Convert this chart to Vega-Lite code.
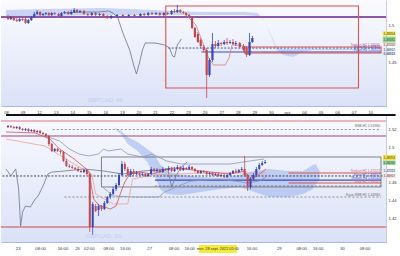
{
"$schema":"https://vega.github.io/schema/vega-lite/v6.json",
"background":"white",
"padding":0,
"spacing":-2,
"config":{"view":{"stroke":null},"font":"Liberation Sans","axis":{"labelOverlap":false,"labelFontSize":4.2,"labelColor":"#333","ticks":false,"grid":false,"labelFlush":false},"axisX":{"labelPadding":4,"domainColor":"#a9b8e8"},"axisY":{"labelPadding":2,"domainColor":"#c9ccd8"}},
"datasets":{
"tc":[
{"d":0.12,"o":1.5139,"c":1.5097,"h":1.5153,"l":1.5083},
{"d":0.29,"o":1.5097,"c":1.5125,"h":1.5139,"l":1.5083},
{"d":0.47,"o":1.5125,"c":1.5083,"h":1.5139,"l":1.5069},
{"d":0.65,"o":1.5083,"c":1.5069,"h":1.5111,"l":1.5056},
{"d":0.82,"o":1.5069,"c":1.5097,"h":1.5111,"l":1.5056},
{"d":1.0,"o":1.5097,"c":1.5083,"h":1.5111,"l":1.5069},
{"d":1.18,"o":1.5097,"c":1.5042,"h":1.5111,"l":1.5028},
{"d":1.35,"o":1.5042,"c":1.5083,"h":1.5097,"l":1.5028},
{"d":1.53,"o":1.5083,"c":1.5125,"h":1.5139,"l":1.5069},
{"d":1.71,"o":1.5125,"c":1.5167,"h":1.5194,"l":1.5111},
{"d":1.88,"o":1.5167,"c":1.5194,"h":1.5222,"l":1.5153},
{"d":2.06,"o":1.5194,"c":1.5153,"h":1.5208,"l":1.5139},
{"d":2.24,"o":1.5153,"c":1.5167,"h":1.518,"l":1.5139},
{"d":2.41,"o":1.5167,"c":1.518,"h":1.5194,"l":1.5153},
{"d":2.59,"o":1.518,"c":1.5153,"h":1.5194,"l":1.5139},
{"d":2.76,"o":1.5153,"c":1.518,"h":1.5194,"l":1.5139},
{"d":2.94,"o":1.518,"c":1.5167,"h":1.5194,"l":1.5153},
{"d":3.18,"o":1.5167,"c":1.5139,"h":1.518,"l":1.5125},
{"d":3.35,"o":1.5139,"c":1.518,"h":1.5194,"l":1.5125},
{"d":3.53,"o":1.518,"c":1.5194,"h":1.5208,"l":1.5167},
{"d":3.76,"o":1.5194,"c":1.5167,"h":1.5208,"l":1.5153},
{"d":3.94,"o":1.5167,"c":1.5194,"h":1.5222,"l":1.5153},
{"d":4.12,"o":1.5194,"c":1.5222,"h":1.525,"l":1.518},
{"d":4.29,"o":1.5222,"c":1.5194,"h":1.5236,"l":1.518},
{"d":4.47,"o":1.5194,"c":1.5208,"h":1.5222,"l":1.518},
{"d":4.71,"o":1.5208,"c":1.5167,"h":1.5222,"l":1.5153},
{"d":4.94,"o":1.5167,"c":1.5153,"h":1.518,"l":1.5139},
{"d":5.18,"o":1.5153,"c":1.518,"h":1.5194,"l":1.5139},
{"d":5.41,"o":1.518,"c":1.5153,"h":1.5194,"l":1.5139},
{"d":5.65,"o":1.5153,"c":1.5167,"h":1.518,"l":1.5139},
{"d":5.88,"o":1.5167,"c":1.5139,"h":1.518,"l":1.5125},
{"d":6.12,"o":1.5139,"c":1.5111,"h":1.5153,"l":1.5097},
{"d":6.35,"o":1.5111,"c":1.5139,"h":1.5153,"l":1.5097},
{"d":6.71,"o":1.5139,"c":1.5153,"h":1.5167,"l":1.5125},
{"d":7.06,"o":1.5153,"c":1.5139,"h":1.5167,"l":1.5125},
{"d":7.41,"o":1.5139,"c":1.5153,"h":1.5167,"l":1.5125},
{"d":7.76,"o":1.5153,"c":1.5139,"h":1.5167,"l":1.5125},
{"d":8.12,"o":1.5139,"c":1.5167,"h":1.518,"l":1.5125},
{"d":8.35,"o":1.5167,"c":1.5153,"h":1.518,"l":1.5139},
{"d":8.59,"o":1.5153,"c":1.518,"h":1.5194,"l":1.5139},
{"d":8.82,"o":1.518,"c":1.5167,"h":1.5194,"l":1.5153},
{"d":9.06,"o":1.5167,"c":1.518,"h":1.5194,"l":1.5153},
{"d":9.29,"o":1.518,"c":1.5153,"h":1.5194,"l":1.5139},
{"d":9.53,"o":1.5153,"c":1.518,"h":1.5194,"l":1.5139},
{"d":9.76,"o":1.518,"c":1.5167,"h":1.5194,"l":1.5153},
{"d":10.0,"o":1.5167,"c":1.5208,"h":1.5222,"l":1.5153},
{"d":10.18,"o":1.5208,"c":1.5194,"h":1.5236,"l":1.518},
{"d":10.35,"o":1.5194,"c":1.5222,"h":1.5292,"l":1.518},
{"d":10.53,"o":1.5222,"c":1.5194,"h":1.5236,"l":1.518},
{"d":10.71,"o":1.5194,"c":1.518,"h":1.5208,"l":1.5167},
{"d":10.88,"o":1.518,"c":1.5153,"h":1.5194,"l":1.5139},
{"d":11.06,"o":1.5153,"c":1.5139,"h":1.5167,"l":1.5125},
{"d":11.24,"o":1.5125,"c":1.4972,"h":1.5139,"l":1.4958},
{"d":11.41,"o":1.4972,"c":1.4847,"h":1.4986,"l":1.4833},
{"d":11.59,"o":1.4889,"c":1.4778,"h":1.4917,"l":1.4764},
{"d":11.76,"o":1.4806,"c":1.4722,"h":1.4833,"l":1.4694},
{"d":11.94,"o":1.4708,"c":1.4667,"h":1.4736,"l":1.4639},
{"d":12.12,"o":1.4667,"c":1.4319,"h":1.4694,"l":1.4},
{"d":12.29,"o":1.4319,"c":1.4528,"h":1.4556,"l":1.4292},
{"d":12.47,"o":1.4528,"c":1.475,"h":1.4903,"l":1.45},
{"d":12.65,"o":1.475,"c":1.4722,"h":1.4792,"l":1.4694},
{"d":12.82,"o":1.4722,"c":1.4764,"h":1.4806,"l":1.4708},
{"d":13.0,"o":1.4764,"c":1.475,"h":1.4778,"l":1.4722},
{"d":13.18,"o":1.475,"c":1.4778,"h":1.4806,"l":1.4736},
{"d":13.35,"o":1.4778,"c":1.4764,"h":1.4833,"l":1.4736},
{"d":13.53,"o":1.4764,"c":1.4778,"h":1.4806,"l":1.475},
{"d":13.71,"o":1.4778,"c":1.475,"h":1.4819,"l":1.4736},
{"d":13.88,"o":1.475,"c":1.4764,"h":1.4792,"l":1.4722},
{"d":14.12,"o":1.4764,"c":1.4708,"h":1.4778,"l":1.4694},
{"d":14.35,"o":1.4722,"c":1.4667,"h":1.475,"l":1.4639},
{"d":14.53,"o":1.4694,"c":1.4597,"h":1.4722,"l":1.4569},
{"d":14.71,"o":1.4597,"c":1.4778,"h":1.4903,"l":1.4583},
{"d":14.88,"o":1.4778,"c":1.4833,"h":1.4861,"l":1.4764}
],
"tcl":[
{"d":0,"u":1.5222,"l":1.5139},{"d":2.35,"u":1.5236,"l":1.5139},{"d":5.88,"u":1.525,"l":1.5153},{"d":8.82,"u":1.5222,"l":1.5153},{"d":11.76,"u":1.5194,"l":1.5153},{"d":14.41,"u":1.5194,"l":1.5153},{"d":15.18,"u":1.518,"l":1.5139},{"d":15.59,"u":1.5083,"l":1.5083},{"d":16.0,"u":1.4875,"l":1.4861},{"d":16.35,"u":1.4694,"l":1.4667},{"d":16.76,"u":1.4681,"l":1.4597},{"d":17.35,"u":1.4681,"l":1.4569},{"d":17.94,"u":1.4681,"l":1.4639},{"d":18.53,"u":1.4681,"l":1.4667},{"d":21.18,"u":1.4681,"l":1.4667}
],
"tch":[
{"d":3.53,"p":1.518},{"d":4.71,"p":1.5194},{"d":5.59,"p":1.5194},{"d":6.18,"p":1.5208},{"d":6.47,"p":1.518},{"d":6.76,"p":1.5111},{"d":7.06,"p":1.4903},{"d":7.47,"p":1.4667},{"d":7.71,"p":1.4458},{"d":7.88,"p":1.4333},{"d":8.06,"p":1.4486},{"d":8.24,"p":1.4667},{"d":8.41,"p":1.4764},{"d":9.0,"p":1.4764},{"d":9.59,"p":1.4736},{"d":9.88,"p":1.4694},{"d":10.06,"p":1.4583},{"d":10.18,"p":1.4569},{"d":10.35,"p":1.4736},{"d":10.59,"p":1.4819}
],
"tr":[
{"d":10.88,"p":1.5153},{"d":11.47,"p":1.5014},{"d":11.94,"p":1.4736},{"d":12.24,"p":1.4556},{"d":12.53,"p":1.4458},{"d":13.24,"p":1.4458},{"d":13.47,"p":1.4556},{"d":13.65,"p":1.4736},{"d":14.12,"p":1.4736},{"d":14.71,"p":1.4694}
],
"ttag":[
{"k":"last","d1":22.76,"d2":23.53,"dm":23.15,"p1":1.4924,"p2":1.4868,"pm":1.4896,"v":"1.48354"},
{"k":"bid","d1":22.76,"d2":23.53,"dm":23.15,"p1":1.4854,"p2":1.4771,"pm":1.4812,"v":"1.48265"},
{"k":"pk","d1":22.76,"d2":23.53,"dm":23.15,"p1":1.4764,"p2":1.4722,"pm":1.4743,"v":"1.47222"},
{"k":"lb","d1":22.76,"d2":23.53,"dm":23.15,"p1":1.4687,"p2":1.4645,"pm":1.4666,"v":"1.46917"},
{"k":"bl","d1":22.76,"d2":23.53,"dm":23.15,"p1":1.4639,"p2":1.4597,"pm":1.4618,"v":"1.46511"}
],
"bc":[
{"t":0.67,"o":1.5222,"c":1.5233,"h":1.5244,"l":1.5211},
{"t":1.67,"o":1.5233,"c":1.5222,"h":1.5244,"l":1.5211},
{"t":2.67,"o":1.5222,"c":1.5211,"h":1.5233,"l":1.52},
{"t":3.67,"o":1.5211,"c":1.5222,"h":1.5233,"l":1.52},
{"t":4.67,"o":1.5222,"c":1.52,"h":1.5233,"l":1.5189},
{"t":5.67,"o":1.52,"c":1.5189,"h":1.5211,"l":1.5178},
{"t":6.67,"o":1.5189,"c":1.52,"h":1.5211,"l":1.5178},
{"t":7.67,"o":1.52,"c":1.5178,"h":1.5211,"l":1.5167},
{"t":8.67,"o":1.5178,"c":1.5189,"h":1.52,"l":1.5167},
{"t":9.67,"o":1.5189,"c":1.5167,"h":1.52,"l":1.5156},
{"t":10.67,"o":1.5167,"c":1.5178,"h":1.5189,"l":1.5156},
{"t":11.67,"o":1.5178,"c":1.5156,"h":1.5189,"l":1.5144},
{"t":12.67,"o":1.5156,"c":1.5144,"h":1.5167,"l":1.5133},
{"t":13.67,"o":1.5144,"c":1.5122,"h":1.5156,"l":1.5111},
{"t":14.67,"o":1.5122,"c":1.5033,"h":1.5133,"l":1.5011},
{"t":15.67,"o":1.5033,"c":1.4956,"h":1.5044,"l":1.4944},
{"t":16.67,"o":1.4956,"c":1.4978,"h":1.4989,"l":1.4944},
{"t":17.67,"o":1.4978,"c":1.4956,"h":1.4989,"l":1.4944},
{"t":18.67,"o":1.4956,"c":1.4944,"h":1.4967,"l":1.4922},
{"t":19.67,"o":1.4944,"c":1.4844,"h":1.4956,"l":1.4833},
{"t":20.67,"o":1.4844,"c":1.4789,"h":1.4867,"l":1.4778},
{"t":21.67,"o":1.4789,"c":1.4778,"h":1.4811,"l":1.4767},
{"t":22.67,"o":1.4778,"c":1.4767,"h":1.48,"l":1.4756},
{"t":23.67,"o":1.4767,"c":1.4756,"h":1.4778,"l":1.4744},
{"t":24.67,"o":1.4756,"c":1.4733,"h":1.4778,"l":1.4722},
{"t":25.67,"o":1.4733,"c":1.4722,"h":1.4744,"l":1.4711},
{"t":26.67,"o":1.4722,"c":1.4744,"h":1.4756,"l":1.4711},
{"t":27.67,"o":1.4744,"c":1.47,"h":1.4756,"l":1.4689},
{"t":28.67,"o":1.47,"c":1.4111,"h":1.4711,"l":1.4056},
{"t":29.67,"o":1.4111,"c":1.4367,"h":1.4389,"l":1.4022},
{"t":30.67,"o":1.4344,"c":1.4289,"h":1.4367,"l":1.4278},
{"t":31.67,"o":1.43,"c":1.4344,"h":1.4367,"l":1.4233},
{"t":32.67,"o":1.4344,"c":1.4311,"h":1.4356,"l":1.4289},
{"t":33.67,"o":1.4311,"c":1.4378,"h":1.44,"l":1.43},
{"t":34.67,"o":1.4378,"c":1.4444,"h":1.4456,"l":1.4367},
{"t":35.67,"o":1.4444,"c":1.4478,"h":1.45,"l":1.4422},
{"t":36.67,"o":1.4478,"c":1.4533,"h":1.4556,"l":1.4467},
{"t":37.67,"o":1.4533,"c":1.4578,"h":1.46,"l":1.4511},
{"t":38.67,"o":1.4578,"c":1.4689,"h":1.4711,"l":1.4567},
{"t":39.67,"o":1.4689,"c":1.4811,"h":1.4844,"l":1.4678},
{"t":40.67,"o":1.4811,"c":1.4756,"h":1.4833,"l":1.4733},
{"t":41.67,"o":1.4756,"c":1.4689,"h":1.4778,"l":1.4678},
{"t":42.67,"o":1.4689,"c":1.4733,"h":1.4756,"l":1.4667},
{"t":43.67,"o":1.4733,"c":1.47,"h":1.4756,"l":1.4689},
{"t":44.67,"o":1.47,"c":1.4711,"h":1.4733,"l":1.4689},
{"t":45.67,"o":1.4711,"c":1.4689,"h":1.4722,"l":1.4678},
{"t":46.67,"o":1.4689,"c":1.47,"h":1.4722,"l":1.4678},
{"t":47.67,"o":1.47,"c":1.4678,"h":1.4711,"l":1.4667},
{"t":48.67,"o":1.4678,"c":1.47,"h":1.4711,"l":1.4667},
{"t":49.67,"o":1.47,"c":1.4756,"h":1.4778,"l":1.4689},
{"t":50.67,"o":1.4756,"c":1.4733,"h":1.4767,"l":1.4722},
{"t":51.67,"o":1.4733,"c":1.4744,"h":1.4767,"l":1.4722},
{"t":52.67,"o":1.4744,"c":1.4722,"h":1.4756,"l":1.4711},
{"t":53.67,"o":1.4722,"c":1.4756,"h":1.4778,"l":1.4711},
{"t":54.67,"o":1.4756,"c":1.4744,"h":1.4767,"l":1.4733},
{"t":55.67,"o":1.4744,"c":1.4767,"h":1.4789,"l":1.4733},
{"t":56.67,"o":1.4767,"c":1.4733,"h":1.4778,"l":1.4722},
{"t":57.67,"o":1.4733,"c":1.4756,"h":1.4778,"l":1.4722},
{"t":58.67,"o":1.4756,"c":1.4778,"h":1.48,"l":1.4744},
{"t":59.67,"o":1.4778,"c":1.4744,"h":1.4789,"l":1.4733},
{"t":60.67,"o":1.4744,"c":1.4767,"h":1.4789,"l":1.4733},
{"t":61.67,"o":1.4767,"c":1.4756,"h":1.4778,"l":1.4744},
{"t":62.67,"o":1.4756,"c":1.4778,"h":1.48,"l":1.4744},
{"t":63.67,"o":1.4778,"c":1.4756,"h":1.4789,"l":1.4744},
{"t":64.67,"o":1.4756,"c":1.4733,"h":1.4767,"l":1.4722},
{"t":65.67,"o":1.4733,"c":1.4711,"h":1.4744,"l":1.47},
{"t":66.67,"o":1.4711,"c":1.4733,"h":1.4744,"l":1.47},
{"t":67.67,"o":1.4733,"c":1.4722,"h":1.4744,"l":1.4711},
{"t":68.67,"o":1.4722,"c":1.47,"h":1.4733,"l":1.4689},
{"t":69.67,"o":1.47,"c":1.4711,"h":1.4722,"l":1.4689},
{"t":70.67,"o":1.4711,"c":1.4689,"h":1.4722,"l":1.4678},
{"t":71.67,"o":1.4689,"c":1.47,"h":1.4711,"l":1.4678},
{"t":72.67,"o":1.47,"c":1.4678,"h":1.4711,"l":1.4667},
{"t":73.67,"o":1.4678,"c":1.4689,"h":1.47,"l":1.4667},
{"t":74.67,"o":1.4689,"c":1.4667,"h":1.47,"l":1.4656},
{"t":75.67,"o":1.4667,"c":1.4689,"h":1.47,"l":1.4656},
{"t":76.67,"o":1.4689,"c":1.4711,"h":1.4722,"l":1.4678},
{"t":77.67,"o":1.4711,"c":1.4733,"h":1.4744,"l":1.47},
{"t":78.67,"o":1.4733,"c":1.4722,"h":1.4756,"l":1.4711},
{"t":79.67,"o":1.4722,"c":1.4744,"h":1.4756,"l":1.4711},
{"t":80.67,"o":1.4744,"c":1.4756,"h":1.4778,"l":1.4733},
{"t":81.67,"o":1.4756,"c":1.4689,"h":1.49,"l":1.4678},
{"t":82.67,"o":1.4689,"c":1.4556,"h":1.47,"l":1.4511},
{"t":83.67,"o":1.4556,"c":1.4644,"h":1.4667,"l":1.4533},
{"t":84.67,"o":1.4644,"c":1.4689,"h":1.4711,"l":1.4622},
{"t":85.67,"o":1.4689,"c":1.4756,"h":1.4778,"l":1.4667},
{"t":86.67,"o":1.4756,"c":1.48,"h":1.4822,"l":1.4744},
{"t":87.67,"o":1.48,"c":1.4822,"h":1.4844,"l":1.4789},
{"t":88.67,"o":1.4822,"c":1.4833,"h":1.4856,"l":1.4811}
],
"bcl":[
{"t":37.33,"u":1.5211,"l":1.52},{"t":39.33,"u":1.5178,"l":1.5144},{"t":41.67,"u":1.5111,"l":1.5033},{"t":45,"u":1.5056,"l":1.4956},{"t":48.33,"u":1.4978,"l":1.4833},{"t":50.67,"u":1.4922,"l":1.47},{"t":52.67,"u":1.4811,"l":1.4533},{"t":55,"u":1.4733,"l":1.4478},{"t":60,"u":1.4689,"l":1.4467},{"t":66.67,"u":1.4667,"l":1.45},{"t":73.33,"u":1.4656,"l":1.4533},{"t":80,"u":1.4689,"l":1.4556},{"t":85,"u":1.4733,"l":1.45},{"t":90,"u":1.4756,"l":1.4444},{"t":96.67,"u":1.4733,"l":1.4444},{"t":101.67,"u":1.4733,"l":1.4478},{"t":105,"u":1.48,"l":1.4533},{"t":106,"u":1.4811,"l":1.4589},{"t":107.33,"u":1.4733,"l":1.4644}
],
"br":[
{"t":0,"p":1.5167},{"t":10,"p":1.5156},{"t":15,"p":1.5089},{"t":18.33,"p":1.4978},{"t":23.33,"p":1.4867},{"t":28.33,"p":1.4733},{"t":30,"p":1.4422},{"t":31.67,"p":1.4356},{"t":35.67,"p":1.4311},{"t":37.67,"p":1.4344},{"t":39.33,"p":1.45},{"t":40.67,"p":1.4611},{"t":42.33,"p":1.47},{"t":45.67,"p":1.4722},{"t":50,"p":1.47},{"t":53.33,"p":1.4733},{"t":56.67,"p":1.4767},{"t":61,"p":1.4756},{"t":66.67,"p":1.4733},{"t":76.67,"p":1.47},{"t":81.67,"p":1.4733},{"t":83.33,"p":1.4644},{"t":86,"p":1.4678},{"t":89,"p":1.4756}
],
"bk":[
{"t":0,"p":1.5089},{"t":13.33,"p":1.5011},{"t":23.33,"p":1.4811},{"t":29.33,"p":1.47},{"t":30.67,"p":1.4478},{"t":36.67,"p":1.4367},{"t":41.67,"p":1.4367},{"t":43.33,"p":1.4644},{"t":50,"p":1.4689},{"t":66.67,"p":1.4711},{"t":81.67,"p":1.4711},{"t":89,"p":1.4711}
],
"bg1":[
{"t":13.33,"p":1.5122},{"t":18.33,"p":1.5067},{"t":21.67,"p":1.4978},{"t":25,"p":1.4922},{"t":28.33,"p":1.49},{"t":31.67,"p":1.4922},{"t":33.33,"p":1.4978},{"t":35,"p":1.4956},{"t":39.33,"p":1.4978},{"t":41.67,"p":1.4922},{"t":46.67,"p":1.4889},{"t":50,"p":1.4922},{"t":55,"p":1.4844},{"t":60,"p":1.4811},{"t":66.67,"p":1.4811},{"t":76.67,"p":1.4811},{"t":83.33,"p":1.4844},{"t":88.33,"p":1.4867}
],
"bg2":[
{"t":32.67,"p":1.4567},{"t":36.67,"p":1.4456},{"t":44.33,"p":1.4444},{"t":52.33,"p":1.4444},{"t":54.33,"p":1.45},{"t":59,"p":1.4567},{"t":63.33,"p":1.4622},{"t":73.33,"p":1.4644},{"t":82.67,"p":1.46},{"t":86.67,"p":1.4622},{"t":89,"p":1.4667}
],
"bch":[
{"t":0,"p":1.4756},{"t":1.67,"p":1.4678},{"t":3.33,"p":1.4756},{"t":4.33,"p":1.4533},{"t":5,"p":1.4122},{"t":5.67,"p":1.4278},{"t":6.67,"p":1.4344},{"t":8.33,"p":1.4333},{"t":10,"p":1.4422},{"t":11,"p":1.4456},{"t":12.67,"p":1.4567},{"t":14.33,"p":1.47},{"t":15.67,"p":1.4722},{"t":20,"p":1.4733},{"t":26.67,"p":1.4756},{"t":33.33,"p":1.4733},{"t":40,"p":1.47},{"t":46.67,"p":1.4733},{"t":51.67,"p":1.4744},{"t":55.33,"p":1.4756},{"t":56.67,"p":1.4556},{"t":58.33,"p":1.4689},{"t":60,"p":1.4778},{"t":62,"p":1.4833}
],
"btag":[
{"k":"last","t1":129,"t2":133.33,"tm":131.2,"p1":1.4911,"p2":1.4856,"pm":1.4883,"v":"1.48354"},
{"k":"bid","t1":129,"t2":133.33,"tm":131.2,"p1":1.485,"p2":1.48,"pm":1.4825,"v":"1.48265"},
{"k":"lb","t1":129,"t2":133.33,"tm":131.2,"p1":1.4761,"p2":1.4717,"pm":1.4739,"v":"1.47222"},
{"k":"pk","t1":129,"t2":133.33,"tm":131.2,"p1":1.47,"p2":1.4656,"pm":1.4678,"v":"1.46917"}
]
},
"vconcat":[
{"width":385,"height":106,"layer":[
{"data":{"values":[{}]},"mark":{"type":"rect","fill":{"gradient":"linear","x1":0,"y1":0,"x2":0,"y2":1,"stops":[{"offset":0,"color":"#fbfbff"},{"offset":1,"color":"#dbe2f7"}]}},"encoding":{}},
{"data":{"name":"tcl"},"mark":{"type":"area","color":"#a8bbef","opacity":0.6},"encoding":{"x":{"field":"d","type":"quantitative","title":null,"scale":{"domain":[0,22.65],"nice":false,"zero":false}},"y":{"field":"u","type":"quantitative","title":null,"scale":{"domain":[1.3889,1.5361],"nice":false,"zero":false}},"y2":{"field":"l"}}},
{"data":{"values":[{"p":1.5125}]},"mark":{"type":"rule","color":"#8c58a8","strokeWidth":2},"encoding":{"y":{"field":"p","type":"quantitative","title":null,"scale":{"domain":[1.3889,1.5361],"nice":false,"zero":false}}}},
{"data":{"values":[{"d1":9.8,"d2":22.65,"p":1.4694}]},"mark":{"type":"rule","color":"#3b4cc0","strokeWidth":1,"strokeDash":[2,1.5]},"encoding":{"x":{"field":"d1","type":"quantitative","title":null,"scale":{"domain":[0,22.65],"nice":false,"zero":false}},"x2":{"field":"d2"},"y":{"field":"p","type":"quantitative","title":null,"scale":{"domain":[1.3889,1.5361],"nice":false,"zero":false}}}},
{"data":{"values":[{"d1":11.8,"d2":22.65,"p":1.4639}]},"mark":{"type":"rule","color":"#3b4cc0","strokeWidth":1.2},"encoding":{"x":{"field":"d1","type":"quantitative","title":null,"scale":{"domain":[0,22.65],"nice":false,"zero":false}},"x2":{"field":"d2"},"y":{"field":"p","type":"quantitative","title":null,"scale":{"domain":[1.3889,1.5361],"nice":false,"zero":false}}}},
{"data":{"values":[{"d1":9.65,"d2":21.29,"p1":1.4139,"p2":1.5278},{"d1":14.4,"d2":22.65,"p1":1.4625,"p2":1.4708}]},"mark":{"type":"rect","fillOpacity":0,"stroke":"#d9534f","strokeWidth":1.1},"encoding":{"x":{"field":"d1","type":"quantitative","title":null,"scale":{"domain":[0,22.65],"nice":false,"zero":false}},"x2":{"field":"d2"},"y":{"field":"p1","type":"quantitative","title":null,"scale":{"domain":[1.3889,1.5361],"nice":false,"zero":false}},"y2":{"field":"p2"}}},
{"data":{"name":"tch"},"mark":{"type":"line","color":"#6b7282","strokeWidth":0.8},"encoding":{"x":{"field":"d","type":"quantitative","title":null,"scale":{"domain":[0,22.65],"nice":false,"zero":false}},"y":{"field":"p","type":"quantitative","title":null,"scale":{"domain":[1.3889,1.5361],"nice":false,"zero":false}}}},
{"data":{"name":"tr"},"mark":{"type":"line","color":"#e07a78","strokeWidth":0.8},"encoding":{"x":{"field":"d","type":"quantitative","title":null,"scale":{"domain":[0,22.65],"nice":false,"zero":false}},"y":{"field":"p","type":"quantitative","title":null,"scale":{"domain":[1.3889,1.5361],"nice":false,"zero":false}}}},
{"data":{"name":"tc"},"mark":{"type":"rule","strokeWidth":0.8},"encoding":{"x":{"field":"d","type":"quantitative","title":null,"scale":{"domain":[0,22.65],"nice":false,"zero":false},"axis":{"values":[0,1,2,3,4,5,6,7,8,9,10,11,12,13,14,15,16,17,18,19,20,21,22],"tickCount":100,"labelExpr":"['08','09','12','13','14','15','16','19','20','21','22','23','26','27','28','29','30','oct.','04','05','06','07','10'][datum.value]","title":null,"labelOverlap":false}},"y":{"field":"h","type":"quantitative","title":null,"scale":{"domain":[1.3889,1.5361],"nice":false,"zero":false},"axis":{"orient":"right","values":[1.45,1.5],"tickCount":100,"format":"~g","title":null,"labelOverlap":false}},"y2":{"field":"l"},"color":{"condition":{"test":"datum.c >= datum.o","value":"#3a46b4"},"value":"#bf4a50"}}},
{"data":{"name":"tc"},"mark":{"type":"bar","width":2.2,"orient":"vertical"},"encoding":{"x":{"field":"d","type":"quantitative","title":null,"scale":{"domain":[0,22.65],"nice":false,"zero":false}},"y":{"field":"o","type":"quantitative","title":null,"scale":{"domain":[1.3889,1.5361],"nice":false,"zero":false}},"y2":{"field":"c"},"color":{"condition":{"test":"datum.c >= datum.o","value":"#3a46b4"},"value":"#bf4a50"}}},
{"data":{"values":[{"d":22.59,"p":1.4743,"s":"r","txt":"Tenkan H1 1.48165"},{"d":22.59,"p":1.4708,"s":"b","txt":"Kijun H1 1.47822"},{"d":22.59,"p":1.466,"s":"b","txt":"Kijun H4 1.46511"}]},"mark":{"type":"text","align":"right","baseline":"middle","fontSize":3.4},"encoding":{"x":{"field":"d","type":"quantitative","title":null,"scale":{"domain":[0,22.65],"nice":false,"zero":false}},"y":{"field":"p","type":"quantitative","title":null,"scale":{"domain":[1.3889,1.5361],"nice":false,"zero":false}},"text":{"field":"txt"},"color":{"field":"s","type":"nominal","scale":{"domain":["g","r","b"],"range":["#666666","#d0686b","#3b4cc0"]},"legend":null}}},
{"data":{"values":[{"d":6,"p":1.3972,"txt":"GBPCAD, 4h"}]},"mark":{"type":"text","align":"center","baseline":"middle","fontSize":6,"color":"#c4cdee"},"encoding":{"x":{"field":"d","type":"quantitative","title":null,"scale":{"domain":[0,22.65],"nice":false,"zero":false}},"y":{"field":"p","type":"quantitative","title":null,"scale":{"domain":[1.3889,1.5361],"nice":false,"zero":false}},"text":{"field":"txt"}}},
{"data":{"name":"ttag"},"mark":{"type":"rect"},"encoding":{"x":{"field":"d1","type":"quantitative","title":null,"scale":{"domain":[0,22.65],"nice":false,"zero":false}},"x2":{"field":"d2"},"y":{"field":"p1","type":"quantitative","title":null,"scale":{"domain":[1.3889,1.5361],"nice":false,"zero":false}},"y2":{"field":"p2"},"fill":{"field":"k","type":"nominal","scale":{"domain":["last","bid","pk","lb","bl"],"range":["#f3e23c","#93d68f","#f9dede","#dfe6f6","#c7d4f4"]},"legend":null}}},
{"data":{"name":"ttag"},"mark":{"type":"text","align":"center","baseline":"middle","fontSize":3.2,"color":"#444444"},"encoding":{"x":{"field":"dm","type":"quantitative","title":null,"scale":{"domain":[0,22.65],"nice":false,"zero":false}},"y":{"field":"pm","type":"quantitative","title":null,"scale":{"domain":[1.3889,1.5361],"nice":false,"zero":false}},"text":{"field":"v"}}}
]},
{"width":385,"height":127,"layer":[
{"data":{"values":[{}]},"mark":{"type":"rect","fill":{"gradient":"linear","x1":0,"y1":0,"x2":0,"y2":1,"stops":[{"offset":0,"color":"#f9faff"},{"offset":1,"color":"#dbe2f7"}]}},"encoding":{}},
{"data":{"name":"bcl"},"mark":{"type":"area","color":"#9fb6ee","opacity":0.6},"encoding":{"x":{"field":"t","type":"quantitative","title":null,"scale":{"domain":[0,128.33],"nice":false,"zero":false}},"y":{"field":"u","type":"quantitative","title":null,"scale":{"domain":[1.39444,1.53556],"nice":false,"zero":false}},"y2":{"field":"l"}}},
{"data":{"values":[{"t1":0,"t2":133.33,"p":1.5355}]},"mark":{"type":"rule","color":"#111111","strokeWidth":2},"encoding":{"x":{"field":"t1","type":"quantitative","title":null,"scale":{"domain":[0,128.33],"nice":false,"zero":false}},"x2":{"field":"t2"},"y":{"field":"p","type":"quantitative","title":null,"scale":{"domain":[1.39444,1.53556],"nice":false,"zero":false}}}},
{"data":{"values":[{"p":1.5289}]},"mark":{"type":"rule","color":"#eaa3a6","strokeWidth":1.5},"encoding":{"y":{"field":"p","type":"quantitative","title":null,"scale":{"domain":[1.39444,1.53556],"nice":false,"zero":false}}}},
{"data":{"values":[{"p":1.5122}]},"mark":{"type":"rule","color":"#9b4389","strokeWidth":1.2},"encoding":{"y":{"field":"p","type":"quantitative","title":null,"scale":{"domain":[1.39444,1.53556],"nice":false,"zero":false}}}},
{"data":{"values":[{"p":1.4111}]},"mark":{"type":"rule","color":"#cf4c50","strokeWidth":1.2},"encoding":{"y":{"field":"p","type":"quantitative","title":null,"scale":{"domain":[1.39444,1.53556],"nice":false,"zero":false}}}},
{"data":{"values":[{"p":1.4678}]},"mark":{"type":"rule","color":"#333333","strokeWidth":0.9,"strokeDash":[2,1.5]},"encoding":{"y":{"field":"p","type":"quantitative","title":null,"scale":{"domain":[1.39444,1.53556],"nice":false,"zero":false}}}},
{"data":{"values":[{"t1":16,"t2":128.33,"p":1.5194},{"t1":20,"t2":128.33,"p":1.4444},{"t1":51,"t2":128.33,"p":1.4567}]},"mark":{"type":"rule","color":"#777777","strokeWidth":0.8,"strokeDash":[2,2]},"encoding":{"x":{"field":"t1","type":"quantitative","title":null,"scale":{"domain":[0,128.33],"nice":false,"zero":false}},"x2":{"field":"t2"},"y":{"field":"p","type":"quantitative","title":null,"scale":{"domain":[1.39444,1.53556],"nice":false,"zero":false}}}},
{"data":{"values":[{"t1":51,"t2":128.33,"p":1.4633}]},"mark":{"type":"rule","color":"#3b4cc0","strokeWidth":1.2},"encoding":{"x":{"field":"t1","type":"quantitative","title":null,"scale":{"domain":[0,128.33],"nice":false,"zero":false}},"x2":{"field":"t2"},"y":{"field":"p","type":"quantitative","title":null,"scale":{"domain":[1.39444,1.53556],"nice":false,"zero":false}}}},
{"data":{"values":[{"t1":96.67,"t2":128.33,"p":1.4711},{"t1":96.67,"t2":128.33,"p":1.46}]},"mark":{"type":"rule","color":"#d9534f","strokeWidth":1},"encoding":{"x":{"field":"t1","type":"quantitative","title":null,"scale":{"domain":[0,128.33],"nice":false,"zero":false}},"x2":{"field":"t2"},"y":{"field":"p","type":"quantitative","title":null,"scale":{"domain":[1.39444,1.53556],"nice":false,"zero":false}}}},
{"data":{"values":[{"t1":32.67,"t2":128.33,"p1":1.4556,"p2":1.4889}]},"mark":{"type":"rect","fillOpacity":0,"stroke":"#666666","strokeWidth":0.8},"encoding":{"x":{"field":"t1","type":"quantitative","title":null,"scale":{"domain":[0,128.33],"nice":false,"zero":false}},"x2":{"field":"t2"},"y":{"field":"p1","type":"quantitative","title":null,"scale":{"domain":[1.39444,1.53556],"nice":false,"zero":false}},"y2":{"field":"p2"}}},
{"data":{"name":"bch"},"mark":{"type":"line","color":"#6b7590","strokeWidth":0.8},"encoding":{"x":{"field":"t","type":"quantitative","title":null,"scale":{"domain":[0,128.33],"nice":false,"zero":false}},"y":{"field":"p","type":"quantitative","title":null,"scale":{"domain":[1.39444,1.53556],"nice":false,"zero":false}}}},
{"data":{"name":"bg1"},"mark":{"type":"line","color":"#8c96b4","strokeWidth":0.8},"encoding":{"x":{"field":"t","type":"quantitative","title":null,"scale":{"domain":[0,128.33],"nice":false,"zero":false}},"y":{"field":"p","type":"quantitative","title":null,"scale":{"domain":[1.39444,1.53556],"nice":false,"zero":false}}}},
{"data":{"name":"bg2"},"mark":{"type":"line","color":"#8c96b4","strokeWidth":0.8},"encoding":{"x":{"field":"t","type":"quantitative","title":null,"scale":{"domain":[0,128.33],"nice":false,"zero":false}},"y":{"field":"p","type":"quantitative","title":null,"scale":{"domain":[1.39444,1.53556],"nice":false,"zero":false}}}},
{"data":{"name":"bk"},"mark":{"type":"line","color":"#e8a0a0","strokeWidth":0.8},"encoding":{"x":{"field":"t","type":"quantitative","title":null,"scale":{"domain":[0,128.33],"nice":false,"zero":false}},"y":{"field":"p","type":"quantitative","title":null,"scale":{"domain":[1.39444,1.53556],"nice":false,"zero":false}}}},
{"data":{"name":"br"},"mark":{"type":"line","color":"#d2524f","strokeWidth":0.8},"encoding":{"x":{"field":"t","type":"quantitative","title":null,"scale":{"domain":[0,128.33],"nice":false,"zero":false}},"y":{"field":"p","type":"quantitative","title":null,"scale":{"domain":[1.39444,1.53556],"nice":false,"zero":false}}}},
{"data":{"name":"bc"},"mark":{"type":"rule","strokeWidth":0.8},"encoding":{"x":{"field":"t","type":"quantitative","title":null,"scale":{"domain":[0,128.33],"nice":false,"zero":false},"axis":{"values":[4,11.67,19.33,24.33,28.33,35,40.67,49,57.33,62.67,84,93.33,101,106.67,115,122.67],"tickCount":100,"labelExpr":"['23','08:00','16:00','26','02:00','08:00','16:00','27','08:00','16:00','16:00','29','08:00','16:00','30','08:00'][indexof([4,11.67,19.33,24.33,28.33,35,40.67,49,57.33,62.67,84,93.33,101,106.67,115,122.67], datum.value)]","title":null,"labelOverlap":false}},"y":{"field":"h","type":"quantitative","title":null,"scale":{"domain":[1.39444,1.53556],"nice":false,"zero":false},"axis":{"orient":"right","values":[1.42,1.44,1.46,1.5,1.52],"tickCount":100,"format":"~g","title":null,"labelOverlap":false}},"y2":{"field":"l"},"color":{"condition":{"test":"datum.c >= datum.o","value":"#3a46b4"},"value":"#bf4a50"}}},
{"data":{"name":"bc"},"mark":{"type":"bar","width":2,"orient":"vertical"},"encoding":{"x":{"field":"t","type":"quantitative","title":null,"scale":{"domain":[0,128.33],"nice":false,"zero":false}},"y":{"field":"o","type":"quantitative","title":null,"scale":{"domain":[1.39444,1.53556],"nice":false,"zero":false}},"y2":{"field":"c"},"color":{"condition":{"test":"datum.c >= datum.o","value":"#3a46b4"},"value":"#bf4a50"}}},
{"data":{"values":[{"t":128,"p":1.5228,"s":"g","txt":"SSB H1 1.51980"},{"t":128,"p":1.4728,"s":"r","txt":"Tenkan H1 1.47222"},{"t":128,"p":1.4694,"s":"b","txt":"Kijun H1 1.46917"},{"t":128,"p":1.4656,"s":"b","txt":"Tenkan H4 1.46511"},{"t":128,"p":1.4611,"s":"r","txt":"SSB H1 1.46045"},{"t":128,"p":1.4472,"s":"g","txt":"Kijun-SSB H1 1.44980"}]},"mark":{"type":"text","align":"right","baseline":"middle","fontSize":3.4},"encoding":{"x":{"field":"t","type":"quantitative","title":null,"scale":{"domain":[0,128.33],"nice":false,"zero":false}},"y":{"field":"p","type":"quantitative","title":null,"scale":{"domain":[1.39444,1.53556],"nice":false,"zero":false}},"text":{"field":"txt"},"color":{"field":"s","type":"nominal","scale":{"domain":["g","r","b"],"range":["#666666","#d0686b","#3b4cc0"]},"legend":null}}},
{"data":{"values":[{"t":33.3,"p":1.4011,"txt":"GBPCAD, 1h"}]},"mark":{"type":"text","align":"center","baseline":"middle","fontSize":6,"color":"#c4cdee"},"encoding":{"x":{"field":"t","type":"quantitative","title":null,"scale":{"domain":[0,128.33],"nice":false,"zero":false}},"y":{"field":"p","type":"quantitative","title":null,"scale":{"domain":[1.39444,1.53556],"nice":false,"zero":false}},"text":{"field":"txt"}}},
{"data":{"name":"btag"},"mark":{"type":"rect"},"encoding":{"x":{"field":"t1","type":"quantitative","title":null,"scale":{"domain":[0,128.33],"nice":false,"zero":false}},"x2":{"field":"t2"},"y":{"field":"p1","type":"quantitative","title":null,"scale":{"domain":[1.39444,1.53556],"nice":false,"zero":false}},"y2":{"field":"p2"},"fill":{"field":"k","type":"nominal","scale":{"domain":["last","bid","pk","lb","bl"],"range":["#f3e23c","#93d68f","#f9dede","#dfe6f6","#c7d4f4"]},"legend":null}}},
{"data":{"name":"btag"},"mark":{"type":"text","align":"center","baseline":"middle","fontSize":3.2,"color":"#444444"},"encoding":{"x":{"field":"tm","type":"quantitative","title":null,"scale":{"domain":[0,128.33],"nice":false,"zero":false}},"y":{"field":"pm","type":"quantitative","title":null,"scale":{"domain":[1.39444,1.53556],"nice":false,"zero":false}},"text":{"field":"v"}}},
{"data":{"values":[{"t1":66,"t2":79,"p1":1.3911,"p2":1.3822}]},"mark":{"type":"rect","color":"#f5ec3a"},"encoding":{"x":{"field":"t1","type":"quantitative","title":null,"scale":{"domain":[0,128.33],"nice":false,"zero":false}},"x2":{"field":"t2"},"y":{"field":"p1","type":"quantitative","title":null,"scale":{"domain":[1.39444,1.53556],"nice":false,"zero":false}},"y2":{"field":"p2"}}},
{"data":{"values":[{"t":72.5,"p":1.3866,"txt":"mer. 28 sept. 2022 05:00"}]},"mark":{"type":"text","align":"center","baseline":"middle","fontSize":3.8,"color":"#333333"},"encoding":{"x":{"field":"t","type":"quantitative","title":null,"scale":{"domain":[0,128.33],"nice":false,"zero":false}},"y":{"field":"p","type":"quantitative","title":null,"scale":{"domain":[1.39444,1.53556],"nice":false,"zero":false}},"text":{"field":"txt"}}}
]}
]
}
